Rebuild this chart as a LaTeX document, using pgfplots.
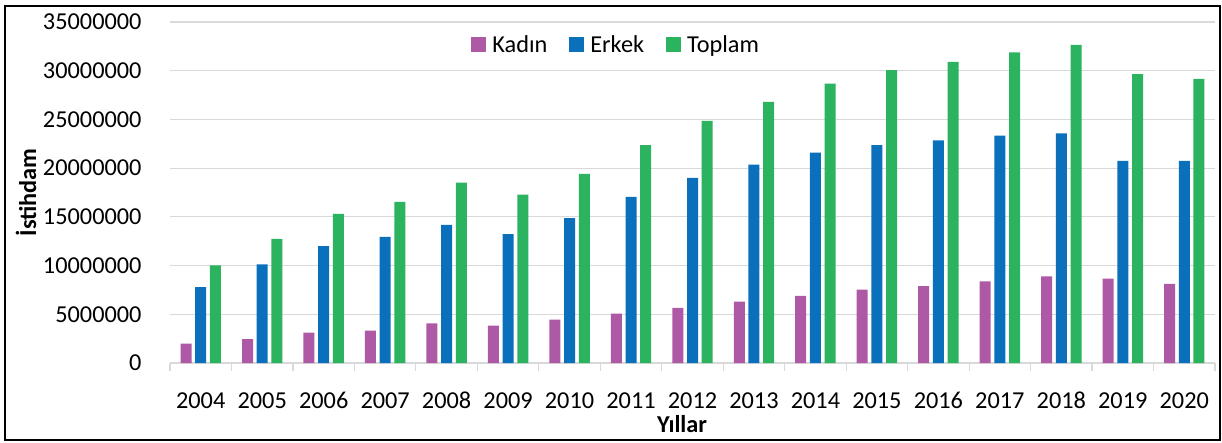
\documentclass[border=0pt]{standalone}
\usepackage{pgfplots}
\pgfplotsset{compat=1.18}
\usepackage{fontspec}
\setmainfont{Carlito}
\definecolor{kadin}{RGB}{174,89,165}
\definecolor{erkek}{RGB}{11,112,187}
\definecolor{toplam}{RGB}{43,179,95}
\definecolor{gridgray}{RGB}{217,217,217}
\begin{document}
\begin{tikzpicture}
\begin{axis}[
  at={(0pt,0pt)}, anchor=south west,
  scale only axis,
  width=1045pt, height=341pt,
  font=\fontsize{24.3}{28}\selectfont,
  ybar=3.7pt, bar width=11pt,
  xmin=-0.5, xmax=16.5,
  ymin=0, ymax=35000000,
  ytick={0,5000000,...,35000000},
  scaled y ticks=false,
  /pgf/number format/assume math mode=true,
  yticklabel style={/pgf/number format/fixed, /pgf/number format/1000 sep={}, anchor=east, inner sep=0pt, xshift=-24pt},
  xtick={0,...,16},
  xticklabels={2004,2005,2006,2007,2008,2009,2010,2011,2012,2013,2014,2015,2016,2017,2018,2019,2020},
  xticklabel style={anchor=base, inner sep=0pt, yshift=-41pt},
  minor xtick={-0.5,0.5,...,16.5},
  major x tick style={draw=none},
  minor x tick style={draw=gridgray, line width=1.2pt},
  minor tick length=8pt,
  tick align=outside,
  major y tick style={draw=none},
  axis x line*=bottom,
  axis y line*=left,
  x axis line style={draw=gridgray, line width=1.2pt},
  y axis line style={draw=none},
  ymajorgrids, grid style={gridgray, line width=1.2pt},
  every axis x label/.style={at={(rel axis cs:0.49,0)}, yshift=-61pt, anchor=center},
  every axis y label/.style={at={(rel axis cs:0,0.5)}, xshift=-144pt, rotate=90, anchor=center},
  xlabel={\bfseries Yıllar},
  ylabel={\bfseries İstihdam},
  legend columns=3,
  legend style={at={(rel axis cs:0.427,0.933)}, anchor=center, draw=none, fill=white, inner sep=2pt,
    /tikz/every even column/.append style={column sep=20pt},
    /tikz/every odd column/.append style={column sep=4pt}},
  legend image code/.code={\fill[#1] (0pt,-7.5pt) rectangle (15pt,7.5pt);},
]
\addplot[fill=kadin, draw=none] coordinates {
(0,1980000) (1,2460000) (2,3110000) (3,3320000) (4,4070000) (5,3830000) (6,4440000) (7,5060000) (8,5670000) (9,6290000) (10,6900000) (11,7520000) (12,7890000) (13,8370000) (14,8890000) (15,8650000) (16,8130000)};
\addplot[fill=erkek, draw=none] coordinates {
(0,7790000) (1,10120000) (2,12000000) (3,12950000) (4,14180000) (5,13230000) (6,14870000) (7,17050000) (8,19000000) (9,20370000) (10,21600000) (11,22350000) (12,22860000) (13,23340000) (14,23580000) (15,20740000) (16,20740000)};
\addplot[fill=toplam, draw=none] coordinates {
(0,10010000) (1,12750000) (2,15310000) (3,16540000) (4,18520000) (5,17290000) (6,19410000) (7,22350000) (8,24850000) (9,26790000) (10,28670000) (11,30070000) (12,30900000) (13,31890000) (14,32640000) (15,29660000) (16,29150000)};
\legend{Kadın, Erkek, Toplam}
\end{axis}
\draw[black, line width=1.5pt] (-165pt,-77pt) rectangle (1050pt,357pt);
\pgfresetboundingbox
\useasboundingbox (-170pt,-79pt) rectangle (1052pt,363pt);
\end{tikzpicture}
\end{document}
